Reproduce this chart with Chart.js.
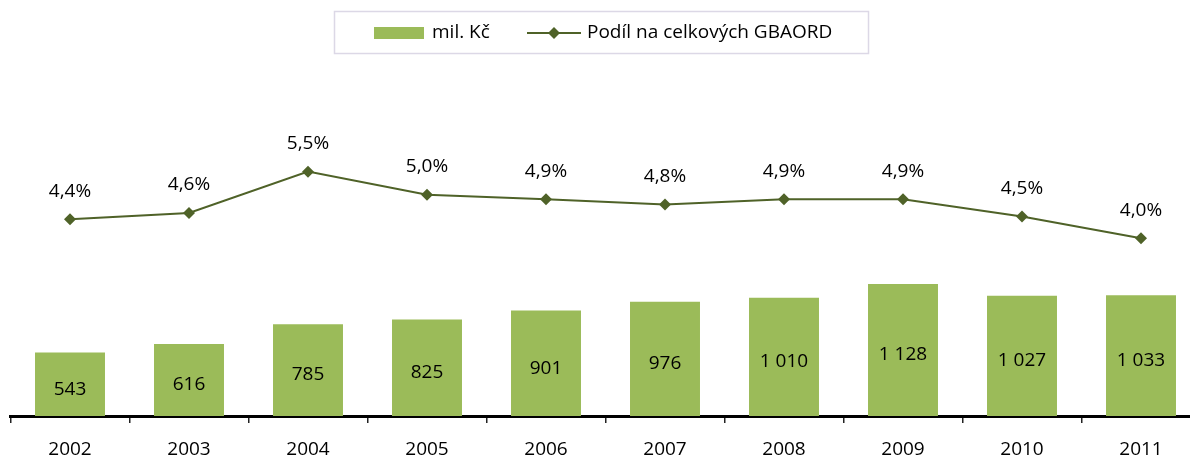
<!DOCTYPE html>
<html>
<head>
<meta charset="utf-8">
<script src="https://cdn.jsdelivr.net/npm/chart.js@4.4.1/dist/chart.umd.min.js"></script>
<style>
  html, body { margin: 0; padding: 0; background: #fff; overflow: hidden; }
  #wrap { width: 1210px; height: 456px; }
</style>
</head>
<body>
<div id="wrap"><canvas id="gbaordChart" width="1210" height="456"></canvas></div>
<script>
// ---------------- DATA -----------------------------
const years = ["2002", "2003", "2004", "2005", "2006", "2007", "2008", "2009", "2010", "2011"];
const millionsCzk = [543, 616, 785, 825, 901, 976, 1010, 1128, 1027, 1033];
const gbaordShare = [4.43, 4.57, 5.5, 4.98, 4.88, 4.76, 4.88, 4.88, 4.49, 4.0];

const barLabel = "mil. Kč";
const lineLabel = "Podíl na celkových GBAORD";

const barColor = "#9BBB59";
const lineColor = "#4F6228";
const fontFamily = "'Open Sans', sans-serif";

const fmtCzk = (v) => String(v).replace(/\B(?=(\d{3})+(?!\d))/g, " ");
const fmtPct = (v) => v.toFixed(1).replace(".", ",") + "%";

// ---------------- PLUGINS -----------------------------
// value labels: inside bars + above line points
const valueLabels = {
  id: "valueLabels",
  afterDatasetsDraw(chart) {
    const ctx = chart.ctx;
    ctx.save();
    ctx.fillStyle = "#000";
    ctx.textAlign = "center";
    ctx.textBaseline = "middle";
    ctx.font = "19px " + fontFamily;

    chart.getDatasetMeta(0).data.forEach((bar, i) => {
      const mid = (bar.y + bar.base) / 2;
      ctx.fillText(fmtCzk(millionsCzk[i]), bar.x, mid + 5);
    });
    chart.getDatasetMeta(1).data.forEach((pt, i) => {
      ctx.fillText(fmtPct(gbaordShare[i]), pt.x, pt.y - 28);
    });
    ctx.restore();
  },
};

// legend box with a bar swatch and a line+diamond swatch
const boxLegend = {
  id: "boxLegend",
  afterDraw(chart) {
    const ctx = chart.ctx;
    ctx.save();
    ctx.strokeStyle = "#DCD8E6";
    ctx.lineWidth = 1.5;
    ctx.strokeRect(334.5, 11.5, 534, 42);

    const cy = 33;
    ctx.fillStyle = barColor;
    ctx.fillRect(374, cy - 6, 50, 12);

    ctx.strokeStyle = lineColor;
    ctx.lineWidth = 2;
    ctx.beginPath();
    ctx.moveTo(527, cy);
    ctx.lineTo(581, cy);
    ctx.stroke();
    ctx.fillStyle = lineColor;
    ctx.beginPath();
    ctx.moveTo(554 - 6, cy);
    ctx.lineTo(554, cy - 6);
    ctx.lineTo(554 + 6, cy);
    ctx.lineTo(554, cy + 6);
    ctx.closePath();
    ctx.fill();

    ctx.fillStyle = "#000";
    ctx.font = "19px " + fontFamily;
    ctx.textAlign = "left";
    ctx.textBaseline = "middle";
    ctx.fillText(barLabel, 432, cy);
    ctx.fillText(lineLabel, 587, cy);
    ctx.restore();
  },
};

// ---------------- CHART -----------------------------
const chartData = {
  labels: years,
  datasets: [
    {
      type: "bar",
      label: barLabel,
      data: millionsCzk,
      backgroundColor: barColor,
      borderWidth: 0,
      yAxisID: "y",
      barPercentage: 1,
      categoryPercentage: 0.588,
      order: 2,
    },
    {
      type: "line",
      label: lineLabel,
      data: gbaordShare,
      borderColor: lineColor,
      backgroundColor: lineColor,
      borderWidth: 2,
      pointStyle: "rectRot",
      pointRadius: 6,
      pointBorderWidth: 0,
      yAxisID: "y1",
      order: 1,
    },
  ],
};

const chartConfig = {
  data: chartData,
  options: {
    responsive: false,
    animation: false,
    layout: { padding: { top: 65, left: 10.5, right: 9.5, bottom: 0 } },
    plugins: {
      legend: { display: false },
      tooltip: { enabled: false },
    },
    scales: {
      x: {
        offset: true,
        afterFit: (s) => { s.height = 40; },
        grid: {
          offset: true,
          drawOnChartArea: false,
          drawTicks: true,
          tickLength: 7,
          lineWidth: 1.5,
          color: "#222",
        },
        border: { display: true, color: "#000", width: 3 },
        ticks: {
          color: "#000",
          padding: 15,
          font: { family: fontFamily, size: 19 },
        },
      },
      y: {
        display: false,
        min: 0,
        max: 3000,
      },
      y1: {
        display: false,
        min: 0,
        max: 7.9,
      },
    },
  },
  plugins: [valueLabels, boxLegend],
};

// RENDER THE CHART
const gbaordChart = new Chart(document.getElementById("gbaordChart"), chartConfig);
</script>
</body>
</html>
